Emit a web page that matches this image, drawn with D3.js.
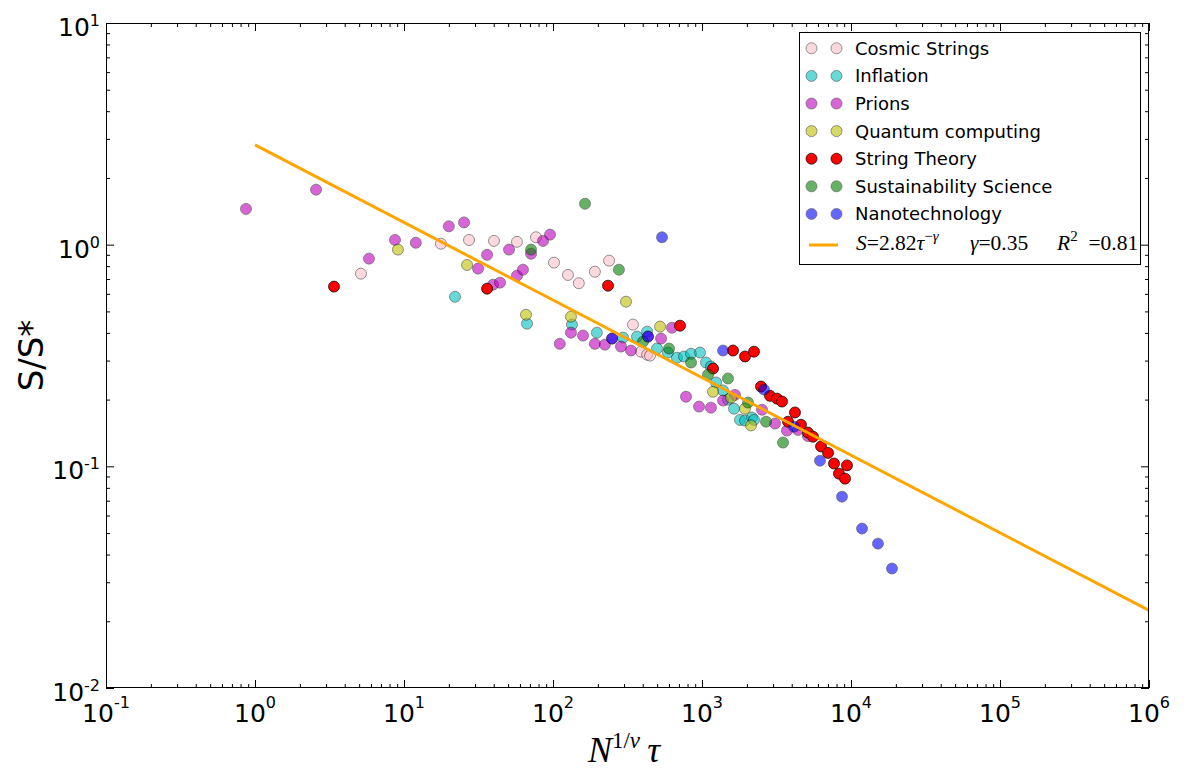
<!DOCTYPE html>
<html>
<head>
<meta charset="utf-8">
<script src="https://cdn.jsdelivr.net/npm/d3@7"></script>
<style>
  body { margin: 0; background: #fff; }
  svg { display: block; }
</style>
</head>
<body>
<svg id="chart" width="1185" height="770"></svg>
<script>
// ---- data: N^(1/nu) * tau  vs  S/S*, one pair of arrays per field ----
const cosmicX = [5.14, 17.7, 27.3, 40.2, 57.3, 76.9, 101.6, 126, 149, 191, 238, 344, 390, 428, 448];
const cosmicY = [0.74, 1.01, 1.05, 1.04, 1.03, 1.08, 0.83, 0.73, 0.67, 0.755, 0.847, 0.436, 0.329, 0.319, 0.316];

const inflationX = [22.0, 66.9, 134, 197, 295, 366, 428, 499, 591, 679, 757, 844, 970, 1064, 1148, 1242, 1384, 1494, 1640, 1799, 1944, 2167, 2234];
const inflationY = [0.582, 0.44, 0.436, 0.401, 0.381, 0.385, 0.405, 0.34, 0.326, 0.309, 0.313, 0.322, 0.326, 0.294, 0.282, 0.239, 0.22, 0.2, 0.182, 0.162, 0.161, 0.166, 0.162];

const prionsX = [0.87, 2.57, 5.82, 8.7, 12.0, 20.0, 25.3, 31.4, 36.1, 39.6, 44.1, 50.7, 57.3, 62.9, 71.2, 85.7, 95.5, 111, 132, 159, 191, 223, 249, 286, 334, 434, 531, 629, 781, 955, 1148, 1384, 1665, 2528, 3090, 3718, 4406, 5143];
const prionsY = [1.45, 1.77, 0.865, 1.05, 1.02, 1.21, 1.26, 0.78, 0.90, 0.66, 0.674, 0.95, 0.725, 0.771, 0.91, 1.04, 1.11, 0.357, 0.401, 0.389, 0.357, 0.354, 0.377, 0.347, 0.333, 0.385, 0.377, 0.422, 0.206, 0.186, 0.184, 0.198, 0.21, 0.18, 0.156, 0.145, 0.146, 0.137];

const quantumX = [9.1, 26.5, 65.9, 132, 309, 523, 1186, 1566, 1944, 2133];
const quantumY = [0.95, 0.81, 0.483, 0.473, 0.553, 0.427, 0.217, 0.204, 0.182, 0.153];

const stringX = [3.39, 36.1, 234, 712, 1186, 1615, 1944, 2234, 2489, 2860, 3188, 3443, 4207, 3778, 4617, 5143, 5560, 6295, 7015, 7691, 9398, 8304, 9120];
const stringY = [0.647, 0.633, 0.653, 0.431, 0.276, 0.333, 0.313, 0.329, 0.229, 0.208, 0.202, 0.196, 0.175, 0.159, 0.154, 0.142, 0.136, 0.123, 0.115, 0.103, 0.101, 0.0927, 0.088];

const sustainX = [71.2, 164, 277, 402, 601, 844, 1097, 1494, 2036, 2690, 3497];
const sustainY = [0.95, 1.53, 0.771, 0.365, 0.34, 0.294, 0.259, 0.249, 0.194, 0.159, 0.128];

const nanoX = [249, 434, 539, 1384, 2608, 4144, 6194, 8703, 11860, 15170, 18840];
const nanoY = [0.377, 0.385, 1.08, 0.333, 0.222, 0.151, 0.106, 0.073, 0.0524, 0.0448, 0.0346];

const seriesNames = ["Cosmic Strings", "Inflation", "Prions", "Quantum computing", "String Theory", "Sustainability Science", "Nanotechnology"];
const seriesColors = ["#ffc0cb", "#00bfbf", "#bf00bf", "#bfbf00", "#ff0000", "#008000", "#0000ff"];
const seriesAlpha = [0.6, 0.6, 0.6, 0.6, 1.0, 0.6, 0.6];
const seriesX = [cosmicX, inflationX, prionsX, quantumX, stringX, sustainX, nanoX];
const seriesY = [cosmicY, inflationY, prionsY, quantumY, stringY, sustainY, nanoY];

// power-law fit S = A * tau^(-gamma)
const fitA = 2.82;
const fitGamma = 0.35;
const fitR2 = 0.81;
const fitRange = [1, 1e6];

// tick labels (powers of ten)
const xTickExp = [-1, 0, 1, 2, 3, 4, 5, 6];
const yTickExp = [-2, -1, 0, 1];

// ---- layout ----
const plot = { left: 106, right: 1149, top: 23, bottom: 688 };
const svg = d3.select("#chart");

const x = d3.scaleLog().domain([0.1, 1e6]).range([plot.left, plot.right]);
const y = d3.scaleLog().domain([0.01, 10]).range([plot.bottom, plot.top]);

const xMajor = xTickExp.map(e => Math.pow(10, e));
const yMajor = yTickExp.map(e => Math.pow(10, e));
const minorOf = (exps) => {
  const out = [];
  for (let i = 0; i < exps.length - 1; i++)
    for (let k = 2; k <= 9; k++) out.push(k * Math.pow(10, exps[i]));
  return out;
};
const xMinor = minorOf(xTickExp);
const yMinor = minorOf(yTickExp);

// ---- inward ticks on all four sides ----
function tickLayer(axis, tx, ty, values, size) {
  svg.append("g")
    .attr("transform", `translate(${tx},${ty})`)
    .call(axis.tickValues(values).tickSize(-size).tickSizeOuter(0).tickFormat(""))
    .call(g => g.select(".domain").remove())
    .call(g => g.selectAll("line").attr("stroke", "#000").attr("stroke-width", 1));
}
tickLayer(d3.axisBottom(x), 0, plot.bottom, xMajor, 8);
tickLayer(d3.axisBottom(x), 0, plot.bottom, xMinor, 4);
tickLayer(d3.axisTop(x), 0, plot.top, xMajor, 8);
tickLayer(d3.axisTop(x), 0, plot.top, xMinor, 4);
tickLayer(d3.axisLeft(y), plot.left, 0, yMajor, 8);
tickLayer(d3.axisLeft(y), plot.left, 0, yMinor, 4);
tickLayer(d3.axisRight(y), plot.right, 0, yMajor, 8);
tickLayer(d3.axisRight(y), plot.right, 0, yMinor, 4);

// ---- tick labels 10^n ----
function powLabel(sel, e, rise) {
  sel.append("tspan").text("10");
  sel.append("tspan").attr("dy", -rise).attr("font-size", 16).text(String(e));
}
xTickExp.forEach(e => {
  const t = svg.append("text")
    .attr("x", x(Math.pow(10, e)))
    .attr("y", 722)
    .attr("text-anchor", "middle")
    .attr("font-family", "DejaVu Sans")
    .attr("font-size", 25)
    .attr("fill", "#000");
  powLabel(t, e, 14);
});
yTickExp.forEach(e => {
  const t = svg.append("text")
    .attr("x", 100)
    .attr("y", y(Math.pow(10, e)) + 13)
    .attr("text-anchor", "end")
    .attr("font-family", "DejaVu Sans")
    .attr("font-size", 25)
    .attr("fill", "#000");
  powLabel(t, e, 10);
});

// ---- scatter points ----
const R = 5.5;
seriesNames.forEach((name, i) => {
  const pts = seriesX[i].map((v, j) => ({ x: v, y: seriesY[i][j] }));
  svg.append("g")
    .selectAll("circle")
    .data(pts)
    .join("circle")
    .attr("cx", d => x(d.x))
    .attr("cy", d => y(d.y))
    .attr("r", R)
    .attr("fill", seriesColors[i])
    .attr("stroke", "#000")
    .attr("stroke-width", 0.7)
    .attr("opacity", seriesAlpha[i]);
});

// ---- fitted power law ----
const fitPts = fitRange.map(t => ({ x: t, y: fitA * Math.pow(t, -fitGamma) }));
svg.append("path")
  .datum(fitPts)
  .attr("d", d3.line().x(d => x(d.x)).y(d => y(d.y)))
  .attr("fill", "none")
  .attr("stroke", "#ffa500")
  .attr("stroke-width", 3);

// ---- frame ----
svg.append("rect")
  .attr("x", plot.left + 0.5).attr("y", plot.top + 0.5)
  .attr("width", plot.right - plot.left - 1).attr("height", plot.bottom - plot.top - 1)
  .attr("fill", "none").attr("stroke", "#000").attr("stroke-width", 1);

// ---- axis titles ----
svg.append("text")
  .attr("transform", `translate(43,${(plot.top + plot.bottom) / 2}) rotate(-90)`)
  .attr("text-anchor", "middle")
  .attr("font-family", "DejaVu Sans")
  .attr("font-size", 34)
  .attr("fill", "#000")
  .text("S/S*");

const xt = svg.append("text")
  .attr("x", 624)
  .attr("y", 762)
  .attr("text-anchor", "middle")
  .attr("font-family", "Liberation Serif")
  .attr("font-size", 36)
  .attr("fill", "#000");
xt.append("tspan").attr("font-style", "italic").text("N");
xt.append("tspan").attr("dy", -14).attr("font-size", 23).text("1/");
xt.append("tspan").attr("font-size", 23).attr("font-style", "italic").text("\u03bd");
xt.append("tspan").attr("dy", 14).attr("font-style", "italic").text("\u2009\u03c4");

// ---- legend ----
const lg = svg.append("g");
lg.append("rect")
  .attr("x", 799.5).attr("y", 32.5).attr("width", 341).attr("height", 232)
  .attr("fill", "#fff").attr("stroke", "#000").attr("stroke-width", 1);
const rowY0 = 48.3, rowStep = 27.6;
seriesNames.forEach((name, i) => {
  const ry = rowY0 + i * rowStep;
  [811.5, 836.5].forEach(cx => {
    lg.append("circle")
      .attr("cx", cx).attr("cy", ry).attr("r", R)
      .attr("fill", seriesColors[i]).attr("stroke", "#000").attr("stroke-width", 0.7)
      .attr("opacity", seriesAlpha[i]);
  });
  lg.append("text")
    .attr("x", 855).attr("y", ry + 6.5)
    .attr("font-family", "DejaVu Sans").attr("font-size", 18).attr("fill", "#000")
    .text(name);
});
lg.append("line")
  .attr("x1", 809).attr("x2", 838).attr("y1", 245).attr("y2", 245)
  .attr("stroke", "#ffa500").attr("stroke-width", 3);

const mathFont = { family: "Liberation Serif", size: 21.5 };
const eq1 = lg.append("text").attr("x", 856).attr("y", 250)
  .attr("font-family", mathFont.family).attr("font-size", mathFont.size).attr("fill", "#000");
eq1.append("tspan").attr("font-style", "italic").text("S");
eq1.append("tspan").text("=" + fitA.toFixed(2));
eq1.append("tspan").attr("font-style", "italic").text("\u03c4");
eq1.append("tspan").attr("dy", -9).attr("font-size", 15).text("\u2212");
eq1.append("tspan").attr("font-size", 15).attr("font-style", "italic").text("\u03b3");

const eq2 = lg.append("text").attr("x", 970).attr("y", 250)
  .attr("font-family", mathFont.family).attr("font-size", mathFont.size).attr("fill", "#000");
eq2.append("tspan").attr("font-style", "italic").text("\u03b3");
eq2.append("tspan").text("=" + fitGamma.toFixed(2));

const eq3 = lg.append("text").attr("x", 1057).attr("y", 250)
  .attr("font-family", mathFont.family).attr("font-size", mathFont.size).attr("fill", "#000");
eq3.append("tspan").attr("font-style", "italic").text("R");
eq3.append("tspan").attr("dy", -9).attr("font-size", 15).text("2");
eq3.append("tspan").attr("dy", 9).text("\u2002=" + fitR2.toFixed(2));
</script>
</body>
</html>
